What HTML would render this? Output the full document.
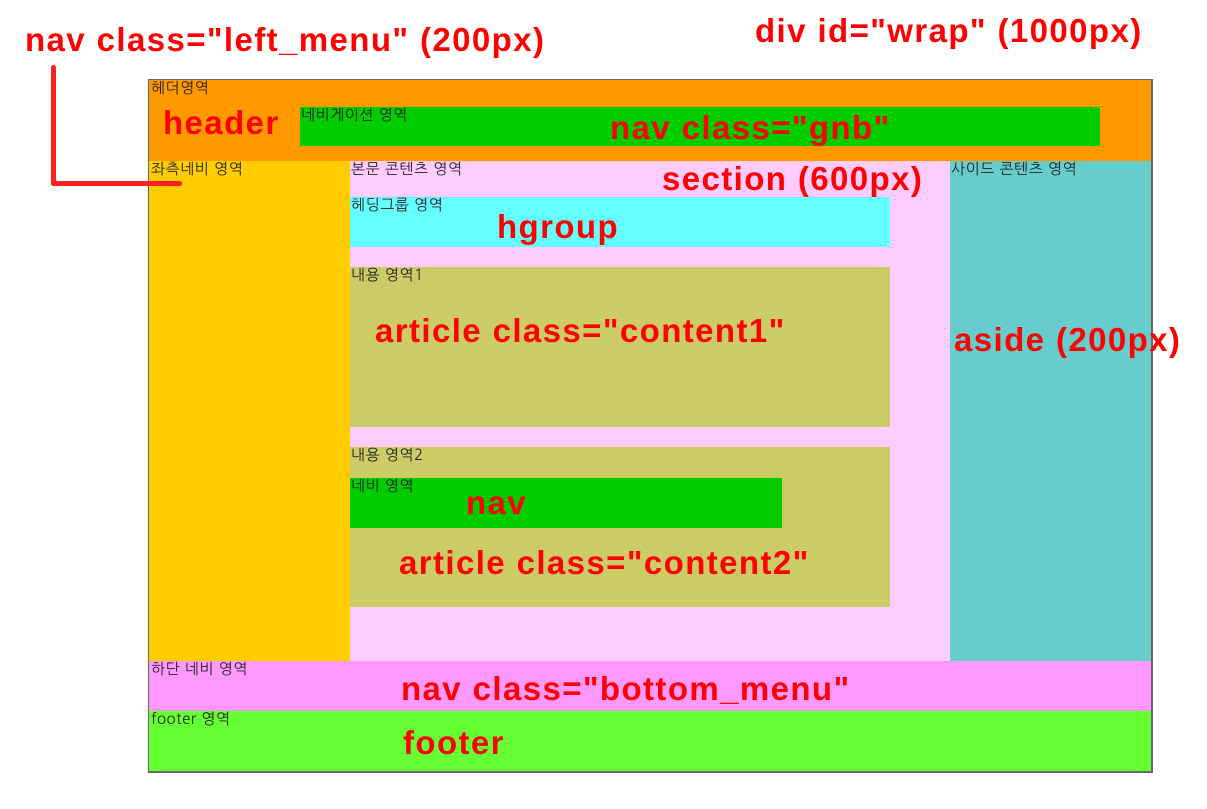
<!DOCTYPE html>
<html><head><meta charset="utf-8"><style>
body{margin:0;width:1207px;height:809px;background:#fff;position:relative;overflow:hidden;font-family:"Liberation Sans","NanumGothic",sans-serif}
.b{position:absolute}
.s{position:absolute;font-size:15px;letter-spacing:0.5px;color:#222;font-family:"NanumGothic","Noto Sans CJK KR",sans-serif;line-height:16px;white-space:nowrap}
.r{position:absolute;color:#ff0000;font-weight:bold;font-size:33px;letter-spacing:1.4px;line-height:38px;white-space:nowrap;font-family:"Liberation Sans","NanumGothic",sans-serif}
</style></head><body>
<div class="b" style="left:148px;top:79px;width:1002px;height:691px;border:2px solid #666;border-width:1px 2px 2px 1px;"></div>
<div class="b" style="left:149px;top:80px;width:1002px;height:81px;background:#FF9900"></div>
<div class="b" style="left:300px;top:107px;width:800px;height:39px;background:#00CC00"></div>
<div class="b" style="left:149px;top:161px;width:201px;height:500px;background:#FFCC00"></div>
<div class="b" style="left:350px;top:161px;width:600px;height:500px;background:#FFCCFF"></div>
<div class="b" style="left:950px;top:161px;width:201px;height:500px;background:#66CCCC"></div>
<div class="b" style="left:350px;top:197px;width:540px;height:50px;background:#66FFFF"></div>
<div class="b" style="left:350px;top:267px;width:540px;height:160px;background:#CCCC66"></div>
<div class="b" style="left:350px;top:447px;width:540px;height:160px;background:#CCCC66"></div>
<div class="b" style="left:350px;top:478px;width:432px;height:50px;background:#00CC00"></div>
<div class="b" style="left:149px;top:661px;width:1002px;height:50px;background:#FF99FF"></div>
<div class="b" style="left:149px;top:711px;width:1002px;height:60px;background:#66FF33"></div>

<div class="s" style="left:151px;top:81px">헤더영역</div>
<div class="s" style="left:301px;top:108px">네비게이션 영역</div>
<div class="s" style="left:151px;top:162px">좌측네비 영역</div>
<div class="s" style="left:351px;top:162px">본문 콘텐츠 영역</div>
<div class="s" style="left:951px;top:162px">사이드 콘텐츠 영역</div>
<div class="s" style="left:351px;top:198px">헤딩그룹 영역</div>
<div class="s" style="left:351px;top:268px">내용 영역1</div>
<div class="s" style="left:351px;top:448px">내용 영역2</div>
<div class="s" style="left:351px;top:479px">네비 영역</div>
<div class="s" style="left:151px;top:662px">하단 네비 영역</div>
<div class="s" style="left:151px;top:712px">footer 영역</div>

<div class="b" style="left:51px;top:65px;width:5px;height:121px;background:#ff2020;border-radius:3px"></div>
<div class="b" style="left:51px;top:181px;width:131px;height:5px;background:#ff2020;border-radius:3px"></div>

<div class="r" style="left:25px;top:21px">nav class="left_menu" (200px)</div>
<div class="r" style="left:755px;top:12px">div id="wrap" (1000px)</div>
<div class="r" style="left:163px;top:104px">header</div>
<div class="r" style="left:610px;top:109px">nav class="gnb"</div>
<div class="r" style="left:662px;top:160px">section (600px)</div>
<div class="r" style="left:497px;top:208px">hgroup</div>
<div class="r" style="left:375px;top:312px">article class="content1"</div>
<div class="r" style="left:954px;top:321px">aside (200px)</div>
<div class="r" style="left:466px;top:484px">nav</div>
<div class="r" style="left:399px;top:544px">article class="content2"</div>
<div class="r" style="left:401px;top:670px">nav class="bottom_menu"</div>
<div class="r" style="left:403px;top:724px">footer</div>
</body></html>
